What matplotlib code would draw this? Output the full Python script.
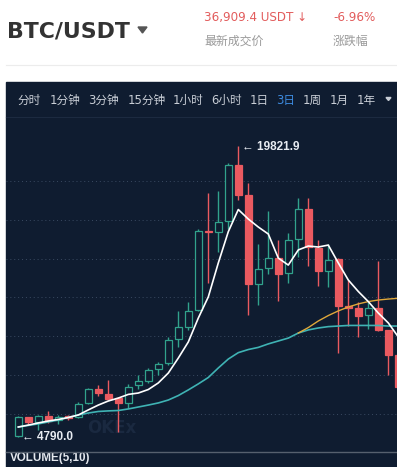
import matplotlib
matplotlib.use('Agg')
import matplotlib.pyplot as plt
from matplotlib.patches import Rectangle, Polygon

plt.rcParams['font.family'] = ['DejaVu Sans', 'Noto Sans CJK SC']

# 3-day candles, values
opens = [4870, 5830, 5600, 5900, 5690, 5900, 5860, 6550, 7290, 7020, 6810, 6580, 7480,
         7720, 8300, 8610, 9850, 10500, 11360, 15440, 15360, 15940, 18820, 17280, 12700,
         13500, 14020, 13250, 15000, 16540, 14530, 13380, 13970, 11560, 11440, 11100,
         11440, 10330, 9040]
highs = [5910, 5870, 5950, 6160, 5950, 5950, 6620, 7360, 7490, 7750, 6890, 7540, 8010,
         8350, 8690, 9950, 11300, 11780, 15530, 17400, 17500, 18910, 19821.9, 17880, 14760,
         16470, 14960, 15340, 17110, 17110, 14960, 14760, 14030, 12900, 11780, 11780,
         13900, 10330, 9100]
lows = [4790, 5490, 5180, 5550, 5490, 5690, 5790, 6510, 6940, 6720, 5090, 6310, 7300,
        7610, 8010, 8520, 9470, 10330, 11300, 12760, 14360, 15530, 17020, 11100, 11610,
        13210, 11840, 12760, 14100, 13640, 12590, 12530, 9160, 10530, 9980, 10360,
        10290, 8010, 7000]
closes = [5860, 5600, 5900, 5660, 5860, 5780, 6520, 7290, 7070, 6770, 6580, 7410, 7700,
          8270, 8560, 9810, 10470, 11300, 15440, 15360, 15890, 18820, 17280, 12700, 13450,
          14020, 13210, 14960, 16540, 14620, 13380, 13930, 11560, 11440, 11050, 11440,
          10330, 9040, 7390]

# moving average lines
ma_white = [5330, 5430, 5540, 5640, 5720, 5820, 5950, 6210, 6460, 6670, 6820, 7010, 7080,
            7260, 7600, 8110, 8880, 9710, 10940, 12030, 13780, 15390, 16530, 16040, 15630,
            15270, 14030, 13670, 14450, 14650, 14600, 14700, 13780, 12900, 12310, 11790,
            11200, 10690, 9970]
ma_teal = [5330, 5410, 5490, 5590, 5690, 5820, 5950, 6050, 6130, 6160, 6180, 6260, 6360,
           6460, 6570, 6720, 6950, 7240, 7550, 7880, 8370, 8830, 9160, 9320, 9430, 9610,
           9760, 9910, 10170, 10330, 10430, 10500, 10530, 10560, 10560, 10560, 10560,
           10530, 10530]
ma_gold = [10170, 10450, 10790, 11070, 11310, 11510, 11670, 11790, 11870, 11920, 11960]
gold_start = 28

grid_levels = [6000, 8000, 10000, 12000, 14000, 16000, 18000]
max_price = 19821.9
min_price = 4790.0

intervals = ['分时', '1分钟', '3分钟', '15分钟', '1小时', '6小时', '1日', '3日', '1周', '1月', '1年']
selected = '3日'

BG = '#0f1c30'
RED = '#ea5a60'
GREEN = '#31a28c'

W, H = 397, 467
fig = plt.figure(figsize=(W / 100, H / 100), dpi=100, facecolor='white')

# background layer in pixel coordinates
bg = fig.add_axes([0, 0, 1, 1], zorder=0)
bg.set_xlim(0, W)
bg.set_ylim(H, 0)
bg.axis('off')

bg.text(7, 37.7, 'BTC/USDT', fontsize=15.8, fontweight='bold', color='#333333', va='baseline')
bg.add_patch(Polygon([[138, 27], [147, 27], [142.5, 33]], closed=True, color='#555555'))
bg.text(204, 21, '36,909.4 USDT ↓', fontsize=8.6, color='#e25c5c', va='baseline')
bg.text(333, 21, '-6.96%', fontsize=8.6, color='#e25c5c', va='baseline')
bg.text(204, 45, '最新成交价', fontsize=8.6, color='#9a9a9a', va='baseline')
bg.text(333, 45, '涨跌幅', fontsize=8.6, color='#9a9a9a', va='baseline')
bg.plot([6, W], [65, 65], color='#ececec', lw=0.8)

# dark panel
bg.add_patch(Rectangle((6, 82), W - 6, H - 82, color=BG))
interval_x = [17, 50, 88, 128, 173, 211, 250, 276, 303, 330, 357]
for label, x in zip(intervals, interval_x):
    col = '#3d8be0' if label == selected else '#c9ced6'
    bg.text(x, 104, label, fontsize=8.4, color=col, va='baseline')
bg.add_patch(Polygon([[386, 97.5], [391, 97.5], [388.5, 100.5]], closed=True, color='#c9ced6'))
bg.plot([6, W], [117, 117], color='#1c2a40', lw=0.8)
bg.text(10, 461.5, 'VOLUME(5,10)', fontsize=8.4, fontweight='bold', color='#e4e8ee',
        va='baseline', family=['Liberation Sans', 'DejaVu Sans'])

# main candle chart
ax = fig.add_axes([6 / W, 15 / H, (W - 6) / W, 334 / H], zorder=1)
ax.set_facecolor(BG)
ax.set_xlim(-1.23, 37.87)
ax.set_ylim(4043, 21244)
for s in ax.spines.values():
    s.set_visible(False)
ax.set_xticks([])
ax.set_yticks([])

for lvl in grid_levels:
    ax.axhline(lvl, color='#3a4a62', lw=0.7, ls=(0, (1, 3)), zorder=1)

# faint watermark
ax.text(0.27, 0.072, 'OKEx', transform=ax.transAxes, fontsize=12, fontweight='bold',
        color='#1a2940', ha='center', va='center', zorder=1)

for i in range(len(opens)):
    o, h, l, c = opens[i], highs[i], lows[i], closes[i]
    up = c >= o
    col = GREEN if up else RED
    ax.vlines(i, l, h, color=col, lw=1, zorder=2)
    ax.bar(i, max(abs(c - o), 40), bottom=min(o, c), width=0.66,
           facecolor=BG if up else RED, edgecolor=col, lw=0.9, zorder=3)

xs = list(range(len(opens)))
ax.plot(xs, ma_teal, color='#3fb3b4', lw=1.2, zorder=4)
ax.plot(xs[gold_start:gold_start + len(ma_gold)], ma_gold, color='#e0a83a', lw=1.0, zorder=4)
ax.plot(xs, ma_white, color='white', lw=1.2, zorder=5)

hi_i = highs.index(max_price)
lo_i = lows.index(min_price)
ax.annotate('← %.1f' % max_price, xy=(hi_i, max_price), xytext=(2.5, -2.9),
            textcoords='offset points', fontsize=8.5, fontweight='bold', color='#e8ecf2',
            va='baseline', family=['Liberation Sans', 'DejaVu Sans'], zorder=6)
ax.annotate('← %.1f' % min_price, xy=(lo_i, min_price), xytext=(2.5, -1.8),
            textcoords='offset points', fontsize=8.5, fontweight='bold', color='#e8ecf2',
            va='baseline', family=['Liberation Sans', 'DejaVu Sans'], zorder=6)

ax.plot([0, 1], [0, 0], transform=ax.transAxes, color='#56606e', lw=1, clip_on=False, zorder=6)

fig.savefig('out.png', dpi=100, facecolor='white')
